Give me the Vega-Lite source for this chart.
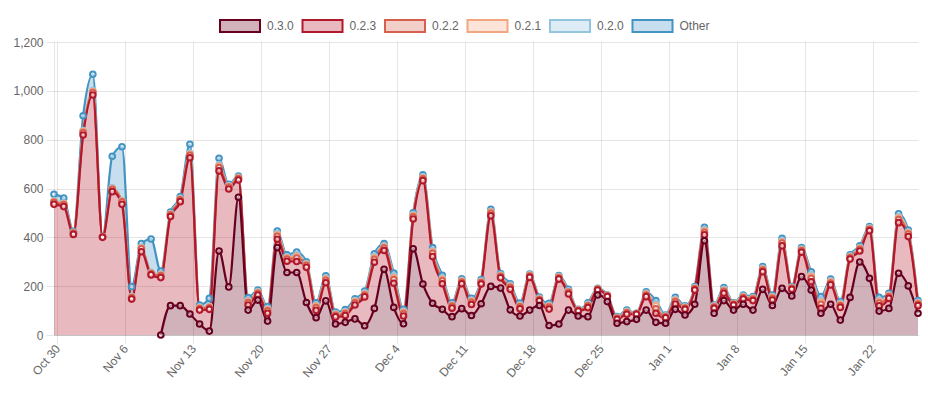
{
  "$schema": "https://vega.github.io/schema/vega-lite/v6.json",
  "width": 864,
  "height": 293,
  "autosize": {"type": "none"},
  "padding": {"left": 54, "top": 42, "right": 10, "bottom": 63},
  "config": {
    "font": "Liberation Sans",
    "view": {"stroke": null},
    "legend": {"padding": 0}
  },
  "datasets": {
    "versions": [
      {"key": "v030", "s": "0.3.0", "k": 1},
      {"key": "v023", "s": "0.2.3", "k": 2},
      {"key": "v022", "s": "0.2.2", "k": 3},
      {"key": "v021", "s": "0.2.1", "k": 4},
      {"key": "v020", "s": "0.2.0", "k": 5},
      {"key": "other", "s": "Other", "k": 6}
    ],
    "counts": [
      {"d":"2017-10-30","v023":535,"v022":8,"v021":3,"v020":3,"other":27},
      {"d":"2017-10-31","v023":526,"v022":8,"v021":3,"v020":3,"other":21},
      {"d":"2017-11-01","v023":412,"v022":5,"v021":2,"v020":2,"other":4},
      {"d":"2017-11-02","v023":819,"v022":10,"v021":4,"v020":4,"other":61},
      {"d":"2017-11-03","v023":983,"v022":10,"v021":4,"v020":4,"other":67},
      {"d":"2017-11-04","v023":400,"v022":2,"v021":0,"v020":0,"other":1},
      {"d":"2017-11-05","v023":587,"v022":10,"v021":3,"v020":3,"other":129},
      {"d":"2017-11-06","v023":535,"v022":10,"v021":3,"v020":3,"other":220},
      {"d":"2017-11-07","v023":147,"v022":6,"v021":2,"v020":3,"other":40},
      {"d":"2017-11-08","v023":341,"v022":12,"v021":3,"v020":3,"other":15},
      {"d":"2017-11-09","v023":246,"v022":6,"v021":2,"v020":3,"other":136},
      {"d":"2017-11-10","v030":0,"v023":235,"v022":8,"v021":3,"v020":3,"other":13},
      {"d":"2017-11-11","v030":120,"v023":365,"v022":7,"v021":3,"v020":2,"other":6},
      {"d":"2017-11-12","v030":120,"v023":426,"v022":8,"v021":3,"v020":3,"other":7},
      {"d":"2017-11-13","v030":86,"v023":640,"v022":10,"v021":4,"v020":4,"other":37},
      {"d":"2017-11-14","v030":45,"v023":57,"v022":6,"v021":3,"v020":3,"other":9},
      {"d":"2017-11-15","v030":16,"v023":89,"v022":6,"v021":3,"v020":3,"other":33},
      {"d":"2017-11-16","v030":344,"v023":328,"v022":14,"v021":6,"v020":5,"other":27},
      {"d":"2017-11-17","v030":197,"v023":401,"v022":8,"v021":3,"v020":3,"other":5},
      {"d":"2017-11-18","v030":564,"v023":71,"v022":6,"v021":3,"v020":2,"other":5},
      {"d":"2017-11-19","v030":102,"v023":21,"v022":10,"v021":5,"v020":5,"other":10},
      {"d":"2017-11-20","v030":143,"v023":21,"v022":7,"v021":4,"v020":3,"other":6},
      {"d":"2017-11-21","v030":57,"v023":32,"v022":10,"v021":5,"v020":4,"other":8},
      {"d":"2017-11-22","v030":358,"v023":34,"v022":12,"v021":6,"v020":5,"other":11},
      {"d":"2017-11-23","v030":256,"v023":46,"v022":9,"v021":5,"v020":4,"other":8},
      {"d":"2017-11-24","v030":256,"v023":45,"v022":14,"v021":7,"v020":6,"other":12},
      {"d":"2017-11-25","v030":133,"v023":144,"v022":8,"v021":4,"v020":4,"other":7},
      {"d":"2017-11-26","v030":71,"v023":30,"v022":11,"v021":6,"v020":5,"other":9},
      {"d":"2017-11-27","v030":140,"v023":74,"v022":10,"v021":5,"v020":4,"other":9},
      {"d":"2017-11-28","v030":45,"v023":29,"v022":7,"v021":4,"v020":3,"other":6},
      {"d":"2017-11-29","v030":52,"v023":28,"v022":8,"v021":4,"v020":4,"other":8},
      {"d":"2017-11-30","v030":66,"v023":57,"v022":9,"v021":5,"v020":4,"other":7},
      {"d":"2017-12-01","v030":38,"v023":118,"v022":8,"v021":4,"v020":4,"other":8},
      {"d":"2017-12-02","v030":109,"v023":189,"v022":12,"v021":6,"v020":5,"other":11},
      {"d":"2017-12-03","v030":269,"v023":77,"v022":10,"v021":5,"v020":4,"other":9},
      {"d":"2017-12-04","v030":113,"v023":99,"v022":15,"v021":8,"v020":6,"other":13},
      {"d":"2017-12-05","v030":46,"v023":32,"v022":10,"v021":5,"v020":4,"other":8},
      {"d":"2017-12-06","v030":353,"v023":122,"v022":9,"v021":5,"v020":4,"other":7},
      {"d":"2017-12-07","v030":209,"v023":423,"v022":8,"v021":4,"v020":4,"other":8},
      {"d":"2017-12-08","v030":130,"v023":191,"v022":13,"v021":7,"v020":5,"other":12},
      {"d":"2017-12-09","v030":105,"v023":105,"v022":12,"v021":6,"v020":5,"other":11},
      {"d":"2017-12-10","v030":75,"v023":35,"v022":8,"v021":4,"v020":3,"other":7},
      {"d":"2017-12-11","v030":108,"v023":102,"v022":7,"v021":4,"v020":3,"other":6},
      {"d":"2017-12-12","v030":80,"v023":45,"v022":9,"v021":5,"v020":4,"other":7},
      {"d":"2017-12-13","v030":128,"v023":81,"v022":6,"v021":3,"v020":3,"other":6},
      {"d":"2017-12-14","v030":199,"v023":289,"v022":10,"v021":5,"v020":4,"other":8},
      {"d":"2017-12-15","v030":192,"v023":42,"v022":6,"v021":3,"v020":3,"other":6},
      {"d":"2017-12-16","v030":103,"v023":84,"v022":8,"v021":4,"v020":4,"other":7},
      {"d":"2017-12-17","v030":78,"v023":29,"v022":8,"v021":4,"v020":4,"other":8},
      {"d":"2017-12-18","v030":102,"v023":134,"v022":5,"v021":3,"v020":2,"other":4},
      {"d":"2017-12-19","v030":121,"v023":19,"v022":5,"v021":3,"v020":2,"other":5},
      {"d":"2017-12-20","v030":39,"v023":67,"v022":8,"v021":4,"v020":4,"other":8},
      {"d":"2017-12-21","v030":45,"v023":184,"v022":5,"v021":3,"v020":2,"other":4},
      {"d":"2017-12-22","v030":102,"v023":66,"v022":7,"v021":3,"v020":3,"other":6},
      {"d":"2017-12-23","v030":78,"v023":20,"v022":3,"v021":1,"v020":1,"other":2},
      {"d":"2017-12-24","v030":75,"v023":37,"v022":7,"v021":4,"v020":3,"other":6},
      {"d":"2017-12-25","v030":164,"v023":20,"v022":3,"v021":1,"v020":1,"other":2},
      {"d":"2017-12-26","v030":137,"v023":20,"v022":3,"v021":1,"v020":1,"other":2},
      {"d":"2017-12-27","v030":48,"v023":16,"v022":4,"v021":2,"v020":2,"other":3},
      {"d":"2017-12-28","v030":55,"v023":30,"v022":6,"v021":3,"v020":3,"other":5},
      {"d":"2017-12-29","v030":64,"v023":21,"v022":2,"v021":1,"v020":0,"other":1},
      {"d":"2017-12-30","v030":102,"v023":55,"v022":7,"v021":4,"v020":3,"other":6},
      {"d":"2017-12-31","v030":52,"v023":37,"v022":18,"v021":14,"v020":8,"other":12},
      {"d":"2018-01-01","v030":48,"v023":22,"v022":4,"v021":2,"v020":2,"other":4},
      {"d":"2018-01-02","v030":105,"v023":22,"v022":10,"v021":5,"v020":4,"other":8},
      {"d":"2018-01-03","v030":82,"v023":23,"v022":5,"v021":3,"v020":2,"other":4},
      {"d":"2018-01-04","v030":126,"v023":58,"v022":5,"v021":3,"v020":2,"other":4},
      {"d":"2018-01-05","v030":386,"v023":24,"v022":11,"v021":6,"v020":5,"other":9},
      {"d":"2018-01-06","v030":89,"v023":20,"v022":5,"v021":3,"v020":2,"other":4},
      {"d":"2018-01-07","v030":141,"v023":30,"v022":8,"v021":4,"v020":4,"other":7},
      {"d":"2018-01-08","v030":102,"v023":21,"v022":3,"v021":2,"v020":1,"other":3},
      {"d":"2018-01-09","v030":126,"v023":21,"v022":6,"v021":3,"v020":3,"other":5},
      {"d":"2018-01-10","v030":102,"v023":39,"v022":6,"v021":3,"v020":2,"other":5},
      {"d":"2018-01-11","v030":187,"v023":72,"v022":7,"v021":4,"v020":3,"other":7},
      {"d":"2018-01-12","v030":121,"v023":22,"v022":7,"v021":4,"v020":3,"other":7},
      {"d":"2018-01-13","v030":191,"v023":174,"v022":11,"v021":6,"v020":5,"other":9},
      {"d":"2018-01-14","v030":160,"v023":27,"v022":4,"v021":2,"v020":2,"other":3},
      {"d":"2018-01-15","v030":239,"v023":100,"v022":7,"v021":3,"v020":3,"other":6},
      {"d":"2018-01-16","v030":184,"v023":34,"v022":14,"v021":8,"v020":6,"other":13},
      {"d":"2018-01-17","v030":89,"v023":20,"v022":17,"v021":9,"v020":7,"other":15},
      {"d":"2018-01-18","v030":126,"v023":79,"v022":8,"v021":5,"v020":4,"other":7},
      {"d":"2018-01-19","v030":61,"v023":52,"v022":8,"v021":5,"v020":4,"other":7},
      {"d":"2018-01-20","v030":154,"v023":157,"v022":6,"v021":3,"v020":3,"other":5},
      {"d":"2018-01-21","v030":299,"v023":45,"v022":7,"v021":4,"v020":3,"other":7},
      {"d":"2018-01-22","v030":232,"v023":195,"v022":6,"v021":3,"v020":3,"other":5},
      {"d":"2018-01-23","v030":98,"v023":21,"v022":12,"v021":7,"v020":5,"other":11},
      {"d":"2018-01-24","v030":109,"v023":41,"v022":7,"v021":4,"v020":3,"other":7},
      {"d":"2018-01-25","v030":253,"v023":207,"v022":13,"v021":7,"v020":5,"other":11},
      {"d":"2018-01-26","v030":201,"v023":202,"v022":10,"v021":5,"v020":4,"other":8},
      {"d":"2018-01-27","v030":89,"v023":31,"v022":7,"v021":4,"v020":3,"other":7}
    ]
  },
  "data": {"name": "counts"},
  "transform": [
    {"fold": ["other", "v020", "v021", "v022", "v023", "v030"], "as": ["key", "n"]},
    {"filter": "isValid(datum.n)"},
    {"lookup": "key", "from": {"data": {"name": "versions"}, "key": "key", "fields": ["s", "k"]}},
    {"stack": "n", "groupby": ["d"], "sort": [{"field": "k", "order": "ascending"}], "as": ["y0", "y1"]}
  ],
  "encoding": {
    "x": {
      "field": "d",
      "type": "temporal",
      "scale": {
        "type": "utc",
        "domain": [
          {"year": 2017, "month": 10, "date": 30, "utc": true},
          {"year": 2018, "month": 1, "date": 27, "utc": true}
        ]
      },
      "axis": {
        "title": null,
        "values": [
          {"year": 2017, "month": 10, "date": 30, "hours": 8, "utc": true},
          {"year": 2017, "month": 11, "date": 6, "hours": 8, "utc": true},
          {"year": 2017, "month": 11, "date": 13, "hours": 8, "utc": true},
          {"year": 2017, "month": 11, "date": 20, "hours": 8, "utc": true},
          {"year": 2017, "month": 11, "date": 27, "hours": 8, "utc": true},
          {"year": 2017, "month": 12, "date": 4, "hours": 8, "utc": true},
          {"year": 2017, "month": 12, "date": 11, "hours": 8, "utc": true},
          {"year": 2017, "month": 12, "date": 18, "hours": 8, "utc": true},
          {"year": 2017, "month": 12, "date": 25, "hours": 8, "utc": true},
          {"year": 2018, "month": 1, "date": 1, "hours": 8, "utc": true},
          {"year": 2018, "month": 1, "date": 8, "hours": 8, "utc": true},
          {"year": 2018, "month": 1, "date": 15, "hours": 8, "utc": true},
          {"year": 2018, "month": 1, "date": 22, "hours": 8, "utc": true}
        ],
        "labelExpr": "utcFormat(datum.value, '%b %-d')",
        "labelAngle": -50,
        "labelAlign": "right",
        "labelBaseline": "middle",
        "labelOverlap": false,
        "labelPadding": 3,
        "labelColor": "#666",
        "labelFontSize": 12,
        "grid": true,
        "gridColor": "rgba(0,0,0,0.1)",
        "domainColor": "rgba(0,0,0,0.15)",
        "tickColor": "rgba(0,0,0,0.1)",
        "tickSize": 8
      }
    },
    "y": {
      "field": "y1",
      "type": "quantitative",
      "stack": null,
      "scale": {"domain": [0, 1200], "nice": false},
      "axis": {
        "title": null,
        "values": [0, 200, 400, 600, 800, 1000, 1200],
        "format": ",d",
        "labelColor": "#666",
        "labelFontSize": 12,
        "labelPadding": 3,
        "grid": true,
        "gridColor": "rgba(0,0,0,0.1)",
        "domainColor": "rgba(0,0,0,0.1)",
        "tickColor": "rgba(0,0,0,0.1)",
        "tickSize": 8
      }
    }
  },
  "layer": [
    {
      "mark": {"type": "area", "interpolate": "monotone"},
      "encoding": {
        "y2": {"field": "y0"},
        "fill": {
          "field": "s",
          "type": "nominal",
          "scale": {
            "domain": ["0.3.0", "0.2.3", "0.2.2", "0.2.1", "0.2.0", "Other"],
            "range": ["rgba(103,0,31,0.3)", "rgba(178,24,43,0.3)", "rgba(214,96,77,0.3)", "rgba(244,165,130,0.3)", "rgba(146,197,222,0.3)", "rgba(67,147,195,0.3)"]
          },
          "legend": {
            "title": null,
            "orient": "none",
            "legendX": 165,
            "legendY": -37,
            "direction": "horizontal",
            "symbolType": "M-1,-0.3L1,-0.3L1,0.3L-1,0.3Z",
            "symbolSize": 1600,
            "symbolStrokeWidth": 2,
            "labelFontSize": 12,
            "labelColor": "#666",
            "labelOffset": 6,
            "columnPadding": 4.5
          }
        }
      }
    },
    {
      "mark": {"type": "line", "interpolate": "monotone", "strokeWidth": 2.2},
      "encoding": {
        "stroke": {
          "field": "s",
          "type": "nominal",
          "scale": {
            "domain": ["0.3.0", "0.2.3", "0.2.2", "0.2.1", "0.2.0", "Other"],
            "range": ["#67001f", "#b2182b", "#d6604d", "#f4a582", "#92c5de", "#4393c3"]
          },
          "legend": {
            "title": null,
            "orient": "none",
            "legendX": 165,
            "legendY": -37,
            "direction": "horizontal",
            "symbolType": "M-1,-0.3L1,-0.3L1,0.3L-1,0.3Z",
            "symbolSize": 1600,
            "symbolStrokeWidth": 2,
            "labelFontSize": 12,
            "labelColor": "#666",
            "labelOffset": 6,
            "columnPadding": 4.5
          }
        }
      }
    },
    {
      "mark": {"type": "point", "shape": "circle", "size": 32, "strokeWidth": 2, "fill": "#ffffff", "fillOpacity": 0.55, "opacity": 1},
      "encoding": {
        "stroke": {"field": "s", "type": "nominal"},
        "order": {"field": "k", "type": "quantitative", "sort": "descending"}
      }
    }
  ]
}
